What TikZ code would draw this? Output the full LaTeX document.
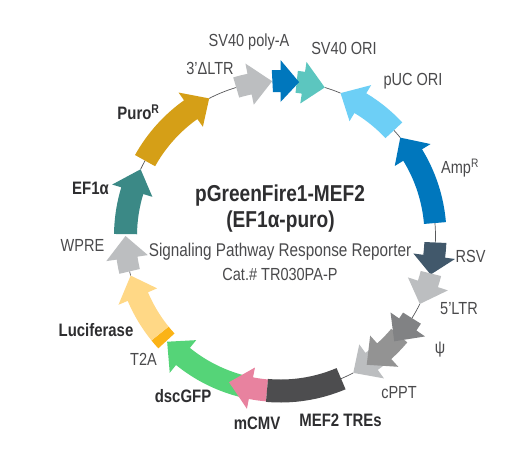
\documentclass[tikz,border=0pt]{standalone}
\usepackage{fontspec}
\setmainfont[FakeStretch=0.83]{Liberation Sans}
\definecolor{txt}{HTML}{4A4A4C}
\definecolor{txtb}{HTML}{2E2E30}
\definecolor{wire}{HTML}{58595B}
\definecolor{cPuro}{HTML}{D59F17}
\definecolor{cEF}{HTML}{3B8986}
\definecolor{cGray}{HTML}{BCBEC0}
\definecolor{cLuc}{HTML}{FFD886}
\definecolor{cTtwo}{HTML}{FBB316}
\definecolor{cGFP}{HTML}{55D478}
\definecolor{cCMV}{HTML}{E8829F}
\definecolor{cMEF}{HTML}{4D4D4F}
\definecolor{cPsi}{HTML}{939393}
\definecolor{cDark}{HTML}{818284}
\definecolor{cRSV}{HTML}{41586B}
\definecolor{cBlue}{HTML}{0077BD}
\definecolor{cSky}{HTML}{6DCFF6}
\definecolor{cTeal}{HTML}{5CC6BF}
\tikzset{
  lab/.style={text=txt,font=\fontsize{17.5}{20}\selectfont,inner sep=0pt},
  labb/.style={text=txtb,font=\fontsize{18}{20}\selectfont\bfseries,inner sep=0pt},
  ttl/.style={text=txtb,font=\fontsize{23}{26}\selectfont\bfseries,inner sep=0pt},
  wirepath/.style={draw=wire,line width=0.7pt}
}
\def\RR{155}
% colour, tail angle, head-base angle, tip angle, band half width, head half width
\newcommand{\plasarrow}[6]{%
  \fill[#1] ({#2}:{\RR+#5}) arc[start angle={#2},end angle={#3},radius={\RR+#5}]
    -- ({#3}:{\RR+#6}) -- ({#4}:\RR) -- ({#3}:{\RR-#6}) -- ({#3}:{\RR-#5})
    arc[start angle={#3},end angle={#2},radius={\RR-#5}] -- cycle;}
\newcommand{\plasband}[4]{%
  \fill[#1] ({#2}:{\RR+#4}) arc[start angle={#2},end angle={#3},radius={\RR+#4}]
    -- ({#3}:{\RR-#4}) arc[start angle={#3},end angle={#2},radius={\RR-#4}] -- cycle;}
\newcommand{\plaswire}[2]{%
  \draw[wirepath] ({#1}:\RR) arc[start angle={#1},end angle={#2},radius=\RR];}
\begin{document}
\begin{tikzpicture}[x=1pt,y=1pt]
\useasboundingbox (0,-453) rectangle (532,0);
\fill[white] (0,-453) rectangle (532,0);
\begin{scope}[shift={(280.5,-236)}]
  \plaswire{106.6}{117.4}
  \plaswire{67.2}{73.4}
  \plaswire{39.4}{43}
  \plaswire{-2.4}{4.8}
  \plaswire{-32}{-26}
  \plaswire{-67}{-62}
  \plaswire{193.2}{194.8}
  \plaswire{150.9}{154.5}
  \plasarrow{cGFP}{256}{231}{223}{11}{21}
  \plasarrow{cCMV}{265}{259}{250.6}{11}{21}
  \plasband{cMEF}{265}{293}{11.5}
  \plasband{cTtwo}{219}{222.6}{11}
  \plasarrow{cLuc}{219}{203}{194.8}{11}{21}
  \plasarrow{cGray}{193.2}{188.2}{180}{10.5}{21}
  \plasarrow{cEF}{179.3}{163}{154.5}{11.5}{21}
  \plasarrow{cPuro}{150.9}{125.4}{117.4}{11.5}{21}
  \plasarrow{cGray}{106.6}{101.5}{93.1}{10.5}{21}
  \plasarrow{cTeal}{84}{81.5}{73.4}{11}{21}
  \plasarrow{cBlue}{93}{90}{83.1}{11}{21}
  \plasarrow{cSky}{43}{59}{67.2}{11.5}{21}
  \plasarrow{cBlue}{4.8}{31.5}{39.4}{11}{21}
  \plasarrow{cRSV}{-2.4}{-7.5}{-14.4}{11}{21}
  \plasarrow{cGray}{-14}{-18}{-26}{10.5}{21}
  \plasarrow{cGray}{-48}{-54}{-62}{10.5}{21}
  \plasarrow{cPsi}{-40}{-48}{-56.2}{10.5}{21}
  \plasarrow{cDark}{-32}{-34.8}{-42.8}{10.5}{21}
\end{scope}
\node[lab] (polya) at (249,-42) {SV40 poly-A};
\node[lab] (svori) at (344,-48) {SV40 ORI};
\node[lab] (puc) at (413,-81) {pUC ORI};
\node[lab] (ltrthree) at (210,-68) {3’ΔLTR};
\node[lab] (amp) at (460,-168) {Amp\textsuperscript{R}};
\node[lab] (rsv) at (470.5,-256) {RSV};
\node[lab] (ltrfive) at (459,-309) {5’LTR};
\node[lab] (psi) at (440,-350) {ψ};
\node[lab] (cppt) at (399,-393) {cPPT};
\node[labb] (mef) at (340.5,-420) {MEF2 TREs};
\node[labb] (mcmv) at (257,-423) {mCMV};
\node[labb] (gfp) at (183,-396) {dscGFP};
\node[lab] (ttwo) at (143.5,-359) {T2A};
\node[labb] (luc) at (96,-330) {Luciferase};
\node[lab] (wpre) at (82.5,-245) {WPRE};
\node[labb] (efa) at (90.5,-188) {EF1α};
\node[labb] (puro) at (138.5,-112) {Puro\textsuperscript{R}};
\node[ttl] (title) at (280,-196) {pGreenFire1-MEF2};
\node[ttl] (subtitle) at (280.5,-222) {(EF1α-puro)};
\node[lab,font=\fontsize{18.4}{20}\selectfont] (signal) at (280,-252) {Signaling Pathway Response Reporter};
\node[lab] (cat) at (280,-274) {Cat.\# TR030PA-P};
\end{tikzpicture}
\end{document}
